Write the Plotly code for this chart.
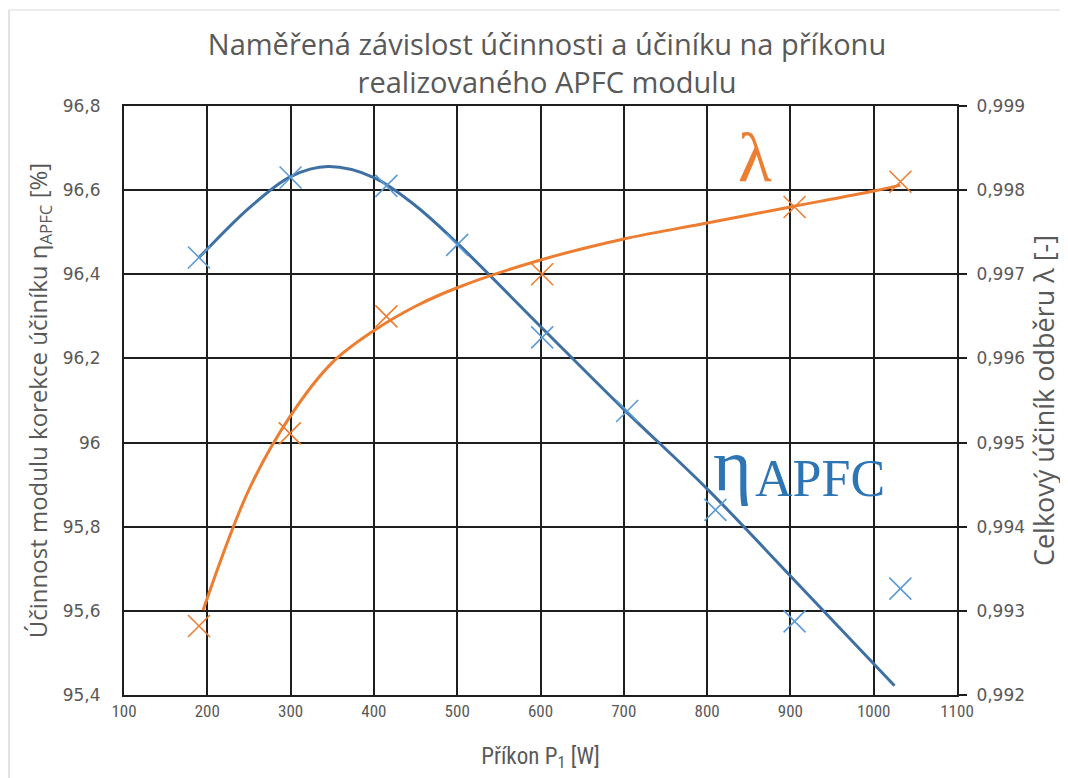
import plotly.graph_objects as go

# Measured points
p_eta = [190, 300, 415, 500, 602, 704, 810, 905, 1032]
eta = [96.44, 96.63, 96.61, 96.47, 96.25, 96.075, 95.84, 95.575, 95.653]

p_lam = [190, 299, 415, 602, 905, 1032]
lam = [0.99282, 0.99511, 0.99650, 0.99700, 0.99780, 0.99810]

# Trend curves
p_eta_fit = [190, 200, 250, 300, 345, 400, 450, 500, 600, 700, 800, 900, 1025]
eta_fit = [96.44, 96.46, 96.557, 96.632, 96.656, 96.63, 96.563, 96.474, 96.276, 96.079, 95.89, 95.683, 95.422]

p_lam_fit = [195, 250, 300, 350, 400, 450, 500, 600, 700, 800, 900, 1000, 1032]
lam_fit = [0.99301, 0.99444, 0.99532, 0.99595, 0.99633, 0.99662, 0.99684, 0.99717,
           0.99742, 0.99761, 0.99780, 0.99799, 0.99806]

title_text = "Naměřená závislost účinnosti a účiníku na příkonu<br>realizovaného APFC modulu"
x_title = "Příkon P<sub>1</sub> [W]"
y_title = "Účinnost modulu korekce účiníku η<sub>APFC</sub> [%]"
y2_title = "Celkový účiník odběru λ [-]"

BLUE_LINE = "#3E70A3"
BLUE_MK = "#5B9BD5"
ORANGE = "#ED7D31"
GRID = "#1e1e1e"
TXT = "#595959"
FONT = "Open Sans, DejaVu Sans, sans-serif"
NARROW = "Liberation Sans Narrow, Roboto Condensed, Arial Narrow, Roboto, sans-serif"

fig = go.Figure()
fig.add_trace(go.Scatter(x=p_eta_fit, y=eta_fit, mode="lines", line=dict(color=BLUE_LINE, width=3, shape="spline"),
                         hoverinfo="skip"))
fig.add_trace(go.Scatter(x=p_eta, y=eta, mode="markers",
                         marker=dict(symbol="x-thin-open", size=22, line=dict(color=BLUE_MK, width=1.6), color=BLUE_MK)))
fig.add_trace(go.Scatter(x=p_lam_fit, y=lam_fit, mode="lines", yaxis="y2",
                         line=dict(color=ORANGE, width=3, shape="spline", smoothing=1.0), hoverinfo="skip"))
fig.add_trace(go.Scatter(x=p_lam, y=lam, mode="markers", yaxis="y2",
                         marker=dict(symbol="x-thin-open", size=22, line=dict(color="#F0884A", width=1.6), color=ORANGE)))

fig.update_layout(
    width=1060, height=770,
    margin=dict(l=116, r=111, t=98, b=83),
    paper_bgcolor="white", plot_bgcolor="white",
    showlegend=False,
    separators=", ",
    font=dict(family=FONT, color=TXT, size=16),
    title=dict(text=title_text, x=0.5085, xanchor="center", y=0.939, yanchor="top",
               font=dict(family=FONT, size=29, color=TXT)),
    xaxis=dict(range=[100, 1100], dtick=100, tick0=100, showgrid=True, gridcolor=GRID, gridwidth=1.7,
               showline=True, linecolor=GRID, linewidth=2, mirror=True, ticks="", zeroline=False,
               tickfont=dict(family=NARROW, size=17, color=TXT),
               title=dict(text=x_title, font=dict(family=NARROW, size=23, color=TXT), standoff=27)),
    yaxis=dict(range=[95.4, 96.8], dtick=0.2, tick0=95.4, showgrid=True, gridcolor=GRID, gridwidth=1.7,
               showline=True, linecolor=GRID, linewidth=2, mirror=True, ticks="", zeroline=False,
               ticklabelstandoff=18,
               tickfont=dict(family="DejaVu Sans, sans-serif", size=17, color=TXT),
               title=dict(text=y_title, font=dict(family=FONT, size=24, color=TXT), standoff=8)),
    yaxis2=dict(range=[0.992, 0.999], dtick=0.001, tick0=0.992, overlaying="y", side="right", anchor="x",
                showgrid=False, showline=True, linecolor=GRID, linewidth=2, ticks="outside", ticklen=8,
                tickcolor=GRID, tickwidth=1.7, zeroline=False, tickformat=".3f",
                ticklabelstandoff=6,
                tickfont=dict(family="DejaVu Sans, sans-serif", size=17, color=TXT),
                title=dict(text=y2_title, font=dict(family=FONT, size=27, color=TXT), standoff=8)),
    shapes=[
        dict(type="line", xref="paper", yref="paper", x0=-0.138, x1=-0.138, y0=-0.2, y1=1.163,
             line=dict(color="#d9d9d9", width=1.5)),
        dict(type="line", xref="paper", yref="paper", x0=-0.138, x1=1.2, y0=1.163, y1=1.163,
             line=dict(color="#e6e6e6", width=1.5)),
    ],
    annotations=[
        dict(text="λ", xref="paper", yref="paper", x=0.7575, y=0.912, xanchor="center", yanchor="middle",
             showarrow=False, font=dict(family="Liberation Serif, serif", size=70, color=ORANGE)),
        dict(text="η", xref="paper", yref="paper", x=0.731, y=0.391, xanchor="center", yanchor="middle",
             showarrow=False, font=dict(family="Liberation Serif, serif", size=74, color="#2E75B6")),
        dict(text="APFC", xref="paper", yref="paper", x=0.755, y=0.368, xanchor="left", yanchor="middle",
             showarrow=False, font=dict(family="Liberation Serif, serif", size=52, color="#2E75B6")),
    ],
)

fig.write_html("out.html")
